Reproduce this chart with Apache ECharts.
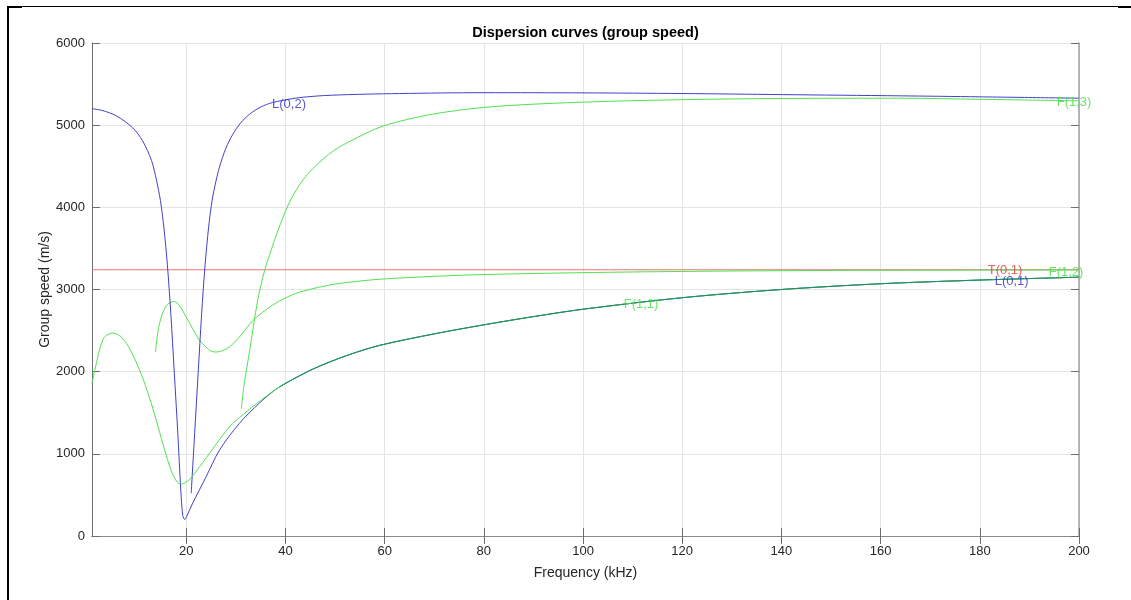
<!DOCTYPE html>
<html>
<head>
<meta charset="utf-8">
<script src="https://cdn.jsdelivr.net/npm/echarts@6/dist/echarts.min.js"></script>
<style>
html,body{margin:0;padding:0;background:#fff;}
#chart{width:1131px;height:600px;}
</style>
</head>
<body>
<div id="chart"></div>
<script>
// ---- data ----
const xTicks = [20, 40, 60, 80, 100, 120, 140, 160, 180, 200];

// T(0,1)
const T01_f = [1, 200];
const T01_v = [3240, 3240];

// shared lower branch (L(0,1) and F(1,1) coincide here)
const shared_f = [38.8, 45.5, 52.3, 59, 70, 80, 90, 100, 120, 140, 160, 180, 200];
const shared_v = [1815, 2030, 2195, 2320, 2460, 2570, 2670, 2760, 2900, 3000, 3070, 3115, 3150];

// L(0,1) before joining shared branch
const L01_f = [1, 3, 5.9, 9.2, 11.2, 13.0, 14.0, 14.8, 15.5, 16.2, 16.9, 17.6, 18.3, 18.9, 19.3, 19.7, 20.1, 21.3, 24.0, 26.7, 30.7, 34.8];
const L01_v = [5200, 5180, 5114, 4968, 4810, 4570, 4330, 4081, 3750, 3300, 2700, 1980, 1251, 560, 250, 200, 240, 400, 720, 1045, 1370, 1620];

// F(1,1) before joining shared branch
const F11_f = [1, 2.5, 3.5, 5.2, 6.5, 8.0, 9.5, 11.0, 12.5, 14.0, 15.3, 16.6, 17.7, 18.8, 19.8, 20.7, 22.7, 25.4, 28.7, 31.5, 35.0];
const F11_v = [1858, 2259, 2421, 2470, 2440, 2340, 2170, 1960, 1700, 1400, 1120, 860, 700, 630, 650, 690, 842, 1065, 1328, 1480, 1650];

// L(0,2)
const L02_f = [21.0, 21.7, 22.4, 23.1, 23.8, 24.5, 25.2, 26.0, 26.7, 28.0, 29.4, 31.0, 32.8, 35.0, 37.4, 42.8, 49.5, 63, 80, 100, 120, 140, 164, 180, 200];
const L02_v = [520, 1250, 1980, 2700, 3300, 3750, 4080, 4320, 4490, 4720, 4890, 5030, 5135, 5220, 5275, 5335, 5365, 5385, 5395, 5393, 5385, 5372, 5357, 5345, 5328];

// F(1,2)
const F12_f = [13.8, 14.6, 16.0, 17.6, 18.6, 20.0, 21.3, 22.7, 24.0, 25.0, 26.0, 27.4, 28.7, 30.7, 33.4, 36.0, 38.8, 42.0, 45.5, 49.0, 52.3, 59, 70, 80, 100, 120, 140, 160, 180, 200];
const F12_v = [2239, 2583, 2806, 2854, 2806, 2664, 2522, 2380, 2300, 2251, 2239, 2259, 2300, 2420, 2620, 2750, 2860, 2950, 3010, 3055, 3085, 3125, 3160, 3182, 3205, 3220, 3229, 3234, 3236, 3238];

// F(1,3)
const F13_f = [31.1, 31.7, 32.8, 34.4, 35.8, 37.1, 38.5, 40.8, 43.5, 46.2, 49.5, 52.9, 59.7, 69.7, 79.8, 89.9, 103.4, 120, 140, 164, 180, 200];
const F13_v = [1551, 1854, 2259, 2866, 3231, 3474, 3720, 4060, 4330, 4510, 4680, 4800, 4990, 5134, 5215, 5255, 5287, 5310, 5325, 5328, 5315, 5296];

// text annotations
const labelText = ['L(0,2)', 'F(1,3)', 'T(0,1)', 'F(1,2)', 'L(0,1)', 'F(1,1)'];
const labelF = [37.2, 195.4, 181.5, 193.8, 182.9, 108.1];
const labelV = [5247, 5275, 3231, 3210, 3101, 2818];

// ---- styles ----
const BLUE = '#4141c9';
const GREEN = '#4fe24f';
const RED = '#ee7070';
const TEAL = '#1f8a62';
const labelColors = ['#3030cc', '#45dd45', '#dd3a3a', '#45dd45', '#3030cc', '#45dd45'];

const zip = (f, v) => f.map((x, i) => [x, v[i]]);
const L01 = zip(L01_f.concat(shared_f), L01_v.concat(shared_v));
const F11 = zip(F11_f.concat(shared_f), F11_v.concat(shared_v));

function lineSeries(name, data, color, z) {
  return {
    name: name, type: 'line', data: data, showSymbol: false, symbol: 'none',
    smooth: 0.3, lineStyle: { color: color, width: 1 }, z: z || 2,
    animation: false, silent: true
  };
}

const axisColor = '#6e6e6e';
const FONT = 'Liberation Sans, Arial, sans-serif';
const labelStyle = { color: '#262626', fontSize: 13, fontFamily: FONT };

const chart = echarts.init(document.getElementById('chart'), null, { renderer: 'canvas' });
chart.setOption({
  animation: false,
  backgroundColor: '#fff',
  title: {
    text: 'Dispersion curves (group speed)',
    left: 585.5, top: 25, padding: 0, textAlign: 'center',
    textStyle: { fontSize: 14.5, fontWeight: 'bold', color: '#000', fontFamily: FONT }
  },
  grid: { left: 92, right: 52, top: 43, bottom: 64, containLabel: false },
  xAxis: [{
    type: 'value', min: 1, max: 200, position: 'bottom',
    name: 'Frequency (kHz)', nameLocation: 'middle', nameGap: 30,
    nameTextStyle: { color: '#262626', fontSize: 14, fontFamily: FONT },
    axisLine: { show: true, lineStyle: { color: axisColor, width: 1 } },
    axisTick: { show: true, inside: true, length: 8, customValues: xTicks, lineStyle: { color: axisColor } },
    axisLabel: { customValues: xTicks, margin: 9, ...labelStyle },
    splitLine: { show: true, lineStyle: { color: '#e4e4e4', width: 1 } }
  }, {
    type: 'value', min: 1, max: 200, position: 'top',
    axisLine: { show: true, lineStyle: { color: '#8a8a8a', width: 1 } },
    axisTick: { show: true, inside: true, length: 8, customValues: xTicks, lineStyle: { color: axisColor } },
    axisLabel: { show: false },
    splitLine: { show: false }
  }],
  yAxis: [{
    type: 'value', min: 0, max: 6000, interval: 1000, position: 'left',
    name: 'Group speed (m/s)', nameLocation: 'middle', nameGap: 40, nameMoveOverlap: false,
    nameTextStyle: { color: '#262626', fontSize: 14, fontFamily: FONT },
    axisLine: { show: true, lineStyle: { color: axisColor, width: 1 } },
    axisTick: { show: true, inside: true, length: 8, lineStyle: { color: axisColor } },
    axisLabel: { margin: 7, formatter: v => String(v), ...labelStyle },
    splitLine: { show: true, lineStyle: { color: '#e4e4e4', width: 1 } }
  }, {
    type: 'value', min: 0, max: 6000, interval: 1000, position: 'right',
    axisLine: { show: true, lineStyle: { color: '#a0a0a0', width: 1.5 } },
    axisTick: { show: true, inside: true, length: 8, lineStyle: { color: axisColor } },
    axisLabel: { show: false },
    splitLine: { show: false }
  }],
  series: [
    lineSeries('T(0,1)', zip(T01_f, T01_v), RED, 2),
    lineSeries('F(1,2)', zip(F12_f, F12_v), GREEN, 3),
    lineSeries('F(1,3)', zip(F13_f, F13_v), GREEN, 3),
    lineSeries('L(0,2)', zip(L02_f, L02_v), BLUE, 4),
    lineSeries('L(0,1)', L01, BLUE, 4),
    lineSeries('F(1,1)', F11, GREEN, 5),
    lineSeries('overlap', zip(shared_f, shared_v), TEAL, 6),
    {
      type: 'scatter', symbolSize: 1, itemStyle: { color: 'rgba(0,0,0,0)' },
      silent: true, z: 10, animation: false,
      data: labelText.map((t, i) => ({
        value: [labelF[i], labelV[i]],
        label: {
          show: true, position: 'right', distance: 0, formatter: t,
          color: labelColors[i], fontSize: 13, fontFamily: FONT
        }
      }))
    }
  ],
  graphic: [
    { type: 'rect', shape: { x: 7, y: 6, width: 2, height: 594 }, style: { fill: '#000' }, silent: true },
    { type: 'rect', shape: { x: 7, y: 6, width: 1124, height: 1 }, style: { fill: '#000' }, silent: true },
    { type: 'rect', shape: { x: 7, y: 6, width: 15, height: 2 }, style: { fill: '#000' }, silent: true },
    { type: 'rect', shape: { x: 1118, y: 6, width: 13, height: 2 }, style: { fill: '#000' }, silent: true }
  ]
});
</script>
</body>
</html>
